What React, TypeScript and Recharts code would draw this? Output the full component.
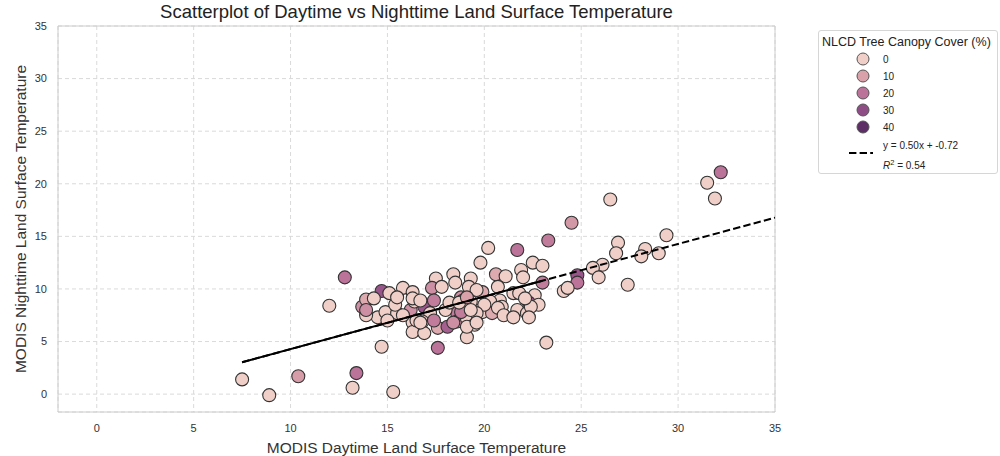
import { ScatterChart, Scatter, XAxis, YAxis, CartesianGrid, ReferenceArea } from 'recharts';

// MODIS daytime LST (x), nighttime LST (y), NLCD canopy cover (%) per site
const dayTemp = [
  7.5, 8.9, 10.4, 13.2, 13.4, 15.3, 14.7, 12.8, 12.0, 17.6, 19.1, 23.2,
  32.2, 31.5, 31.9, 26.5, 29.4, 29.0, 28.3, 28.1, 26.9, 26.8, 27.4, 26.1,
  25.6, 25.9, 24.8, 24.8, 24.1, 24.3, 24.5, 23.3, 21.7, 20.2, 19.8, 22.5,
  23.0, 20.6, 21.1, 21.9, 22.0, 23.0, 19.3, 19.2, 17.5, 18.4, 18.5, 17.3,
  17.8, 16.9, 17.4, 16.2, 16.4, 17.2, 16.8, 16.3, 16.3, 16.9, 17.6, 17.4,
  18.1, 18.6, 18.6, 18.0, 18.2, 18.8, 14.8, 14.5, 13.9, 13.7, 14.9, 15.5,
  15.4, 15.8, 14.7, 15.1, 15.8, 16.3, 16.3, 15.5, 13.9, 14.3, 13.9, 15.0,
  16.5, 21.5, 21.8, 22.6, 22.3, 22.8, 21.7, 22.2, 22.4, 20.8, 20.3, 19.9,
  19.6, 19.8, 19.9, 20.4, 20.9, 19.4, 19.1, 18.8, 19.5, 19.3, 18.9, 20.7,
  22.1, 22.3, 20.7, 20.0, 19.6, 19.3, 18.7, 18.4, 16.7, 19.1, 19.6, 21.0,
  21.5, 16.7, 19.1,
];
const nightTemp = [
  1.4, -0.1, 1.7, 0.6, 2.0, 0.2, 4.5, 11.1, 8.4, 4.4, 5.4, 4.9,
  21.1, 20.1, 18.6, 18.5, 15.1, 13.4, 13.8, 13.1, 14.4, 13.4, 10.4, 12.3,
  12.0, 11.1, 11.3, 10.6, 9.8, 10.1, 16.3, 14.6, 13.7, 13.9, 12.5, 12.5,
  12.2, 11.4, 11.2, 11.8, 11.1, 10.6, 11.0, 10.2, 11.0, 11.4, 10.6, 10.1,
  10.2, 8.3, 8.9, 8.0, 8.8, 7.7, 6.9, 6.8, 5.9, 5.8, 6.3, 7.0,
  6.4, 7.7, 6.9, 8.0, 8.7, 9.2, 7.3, 7.3, 7.5, 8.3, 7.8, 7.7,
  8.5, 7.5, 9.8, 9.6, 10.1, 9.7, 9.1, 9.2, 9.0, 9.1, 8.0, 7.0,
  7.0, 9.6, 9.6, 9.4, 8.7, 8.5, 8.0, 7.7, 8.3, 8.9, 8.8, 9.7,
  9.9, 8.0, 7.8, 7.7, 8.3, 7.0, 7.2, 7.8, 6.6, 8.8, 8.9, 10.2,
  9.1, 7.3, 8.2, 8.5, 7.7, 8.0, 8.7, 6.8, 6.8, 6.4, 6.8, 7.5,
  7.3, 8.9, 9.2,
];
const canopy = [
  0, 0, 11, 0, 20, 0, 0, 20, 0, 20, 0, 0,
  20, 0, 0, 0, 0, 0, 0, 0, 0, 0, 0, 0,
  0, 0, 28, 20, 0, 0, 12, 18, 20, 0, 0, 0,
  0, 8, 0, 0, 0, 18, 0, 0, 0, 0, 0, 14,
  0, 28, 18, 14, 0, 0, 0, 0, 0, 0, 8, 18,
  25, 18, 14, 0, 0, 14, 0, 0, 0, 14, 0, 0,
  0, 0, 28, 0, 0, 0, 0, 0, 8, 0, 14, 0,
  0, 0, 0, 0, 28, 0, 0, 0, 0, 0, 0, 8,
  0, 0, 0, 8, 0, 0, 0, 18, 0, 0, 0, 0,
  0, 0, 0, 0, 0, 0, 0, 14, 0, 0, 0, 0,
  0, 0, 10,
];

const axisTicks = [0, 5, 10, 15, 20, 25, 30, 35];
const legendLevels = [0, 10, 20, 30, 40];
const levelColors = ['#efcfc7', '#d9a1a9', '#bb7399', '#8f4d86', '#5e2f67'];

// fitted regression line from the legend
const slope = 0.5;
const intercept = -0.72;
const rSquared = 0.54;
const fitRangeX = [7.5, 35];
const solidRangeX = [7.5, 23];

const points = dayTemp.map((x, i) => ({ x, y: nightTemp[i], canopy: canopy[i] }));
const fitLine = fitRangeX.map((x) => ({ x, y: slope * x + intercept }));
const solidLine = solidRangeX.map((x) => ({ x, y: slope * x + intercept }));

function hexToRgb(h: string) {
  const n = parseInt(h.slice(1), 16);
  return [(n >> 16) & 255, (n >> 8) & 255, n & 255];
}

function canopyColor(v: number) {
  const t = Math.max(0, Math.min(v / 10, 3.999));
  const i = Math.floor(t);
  const f = t - i;
  const a = hexToRgb(levelColors[i]);
  const b = hexToRgb(levelColors[i + 1]);
  const c = a.map((ch, k) => Math.round(ch + (b[k] - ch) * f));
  return `rgb(${c[0]},${c[1]},${c[2]})`;
}

const FONT = '"Liberation Sans", Arial, sans-serif';

function Dot(props: any) {
  const { cx, cy, payload } = props;
  if (cx == null || cy == null) return <g />;
  return <circle cx={cx} cy={cy} r={6.5} fill={canopyColor(payload.canopy)} stroke="#333" strokeWidth={1.1} />;
}

function Legend() {
  return (
    <div
      style={{
        position: 'absolute', left: 818, top: 30, width: 180, height: 144,
        border: '1px solid #d6d6d6', borderRadius: 3, boxSizing: 'border-box',
        fontFamily: FONT, fontSize: 10, color: '#222', background: '#fff',
      }}
    >
      <div style={{ position: 'absolute', left: 3, top: 4, whiteSpace: 'nowrap', fontSize: 12.5 }}>NLCD Tree Canopy Cover (%)</div>
      {legendLevels.map((lv, i) => (
        <div key={lv} style={{ position: 'absolute', left: 0, top: 20 + i * 17, height: 16, display: 'flex', alignItems: 'center' }}>
          <svg width={60} height={16}>
            <circle cx={44} cy={8} r={6} fill={levelColors[i]} stroke="#555" strokeWidth={1} />
          </svg>
          <span style={{ marginLeft: 4 }}>{lv}</span>
        </div>
      ))}
      <svg width={60} height={16} style={{ position: 'absolute', left: 0, top: 114 }}>
        <line x1={30} y1={8} x2={54} y2={8} stroke="#000" strokeWidth={2} strokeDasharray="7.4 3.2" />
      </svg>
      <div style={{ position: 'absolute', left: 64, top: 106, lineHeight: '17px' }}>
        <div>y = {slope.toFixed(2)}x + {intercept.toFixed(2)}</div>
        <div><i>R</i><sup style={{ fontSize: 7.5 }}>2</sup> = {rSquared.toFixed(2)}</div>
      </div>
    </div>
  );
}

export default function App() {
  return (
    <div style={{ position: 'absolute', left: 0, top: 0, width: 1000, height: 456, background: '#fff', fontFamily: FONT }}>
      <div style={{ position: 'absolute', left: 58, top: 1, width: 717, textAlign: 'center', fontSize: 18.5, color: '#222' }}>
        Scatterplot of Daytime vs Nighttime Land Surface Temperature
      </div>
      <ScatterChart width={1000} height={456} margin={{ top: 26, right: 225, bottom: 0, left: 0 }}>
        <CartesianGrid stroke="#dadada" strokeDasharray="4 3" />
        <XAxis
          type="number"
          dataKey="x"
          domain={[-2, 35]}
          ticks={axisTicks}
          allowDataOverflow
          height={44}
          tickLine={false}
          axisLine={false}
          tickMargin={6}
          tick={{ fontSize: 11, fill: '#333', fontFamily: FONT }}
          label={{ value: 'MODIS Daytime Land Surface Temperature', position: 'insideBottom', offset: 3, style: { fontSize: 15.5, fill: '#333', fontFamily: FONT } }}
        />
        <YAxis
          type="number"
          dataKey="y"
          domain={[-1.7, 35]}
          ticks={axisTicks}
          allowDataOverflow
          width={58}
          tickLine={false}
          axisLine={false}
          tickMargin={5}
          tick={{ fontSize: 11, fill: '#333', fontFamily: FONT }}
          label={{ value: 'MODIS Nighttime Land Surface Temperature', angle: -90, position: 'insideLeft', offset: 20, style: { fontSize: 15.5, fill: '#333', fontFamily: FONT, textAnchor: 'middle' } }}
        />
        <ReferenceArea x1={-2} x2={35} y1={-1.7} y2={35} fill="none" stroke="#cccccc" strokeWidth={1} />
        <Scatter data={points} shape={Dot} isAnimationActive={false} />
        <Scatter
          data={solidLine}
          line={{ stroke: '#000', strokeWidth: 2 }}
          shape={() => <g />}
          isAnimationActive={false}
        />
        <Scatter
          data={fitLine}
          line={{ stroke: '#000', strokeWidth: 2, strokeDasharray: '7.4 3.2' }}
          shape={() => <g />}
          isAnimationActive={false}
        />
      </ScatterChart>
      <Legend />
    </div>
  );
}
